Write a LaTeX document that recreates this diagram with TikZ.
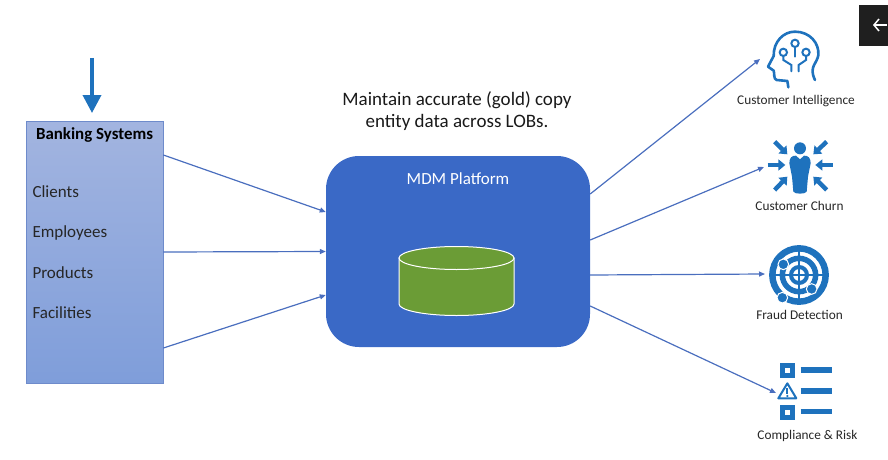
\documentclass[tikz,border=0pt]{standalone}
\usepackage{fontspec}
\setmainfont{Carlito}
\usetikzlibrary{arrows.meta}
\definecolor{iconblue}{HTML}{1E72BD}
\definecolor{linkblue}{HTML}{4A6EBE}
\definecolor{mdmblue}{HTML}{3A69C6}
\definecolor{dbgreen}{HTML}{6B9C36}
\tikzset{
  link/.style={draw=linkblue,line width=1.2pt,-{Triangle[length=6pt,width=5pt]}},
  iconlabel/.style={font=\fontsize{13.3}{15}\selectfont,text=black!85},
  item/.style={anchor=base west,font=\fontsize{17}{19}\selectfont,text=black!85},
  pusharrow/.style={draw=iconblue,line width=4.4pt,-{Triangle[length=7pt,width=11pt]}},
  iconline/.style={draw=iconblue,line width=2.6pt,line cap=round},
  circuit/.style={draw=iconblue,line width=2pt,line cap=round},
  dbshape/.style={draw=white,line width=1pt,fill=dbgreen},
}
\begin{document}
\begin{tikzpicture}[x=1pt,y=-1pt]
  \useasboundingbox (0,0) rectangle (888,460);

  % left box
  \node (banking) at (94.5,252) [draw=linkblue!80,top color=blue!45!black!15!mdmblue!45,bottom color=mdmblue!65,
    minimum width=137pt,minimum height=262pt,inner sep=0pt,line width=0.8pt] {};
  \node (bankingtitle) at (94.5,135.5) {\fontsize{16.9}{19}\selectfont\bfseries Banking Systems};
  \foreach \y/\lbl in {197/Clients,237/Employees,278/Products,318/Facilities}{
    \node (\lbl) at (29,\y) [item] {\lbl};
  }
  \coordinate (feed) at (92,58);
  \coordinate (feedend) at (92,113);
  \draw [draw=iconblue,line width=3.6pt,-{Triangle[length=18pt,width=18pt]}] (feed) -- (feedend);

  % platform
  \node (mdm) at (458,251.5) [fill=mdmblue,rounded corners=33pt,minimum width=264pt,minimum height=191pt,inner sep=0pt] {};
  \node (mdmtitle) at (458,179) [text=white,font=\fontsize{17}{19}\selectfont] {MDM Platform};
  \path [dbshape] (399,258) -- (399,304) arc [start angle=180,end angle=0,x radius=57.5,y radius=11.5] -- (514,258) -- cycle;
  \path [dbshape] (456.5,258) ellipse [x radius=57.5,y radius=11.5];
  \node (goal) at (457,111) [align=center,font=\fontsize{19}{22}\selectfont,text=black!90]
    {Maintain accurate (gold) copy\\entity data across LOBs.};

  % links
  \foreach \a/\b in {97/39.5, 0/0, -96/-43.5}{
    \draw [link] ([yshift=\a]banking.east) -- ([yshift=\b]mdm.west);
  }
  \coordinate (intel) at (760,59);
  \coordinate (churn) at (764,167);
  \coordinate (fraud) at (765,274);
  \coordinate (risk) at (776,393);
  \foreach \a/\t in {57.5/intel, 11.5/churn, -23.5/fraud, -54.5/risk}{
    \draw [link] ([yshift=\a]mdm.east) -- (\t);
  }

  % labels on the right
  \node (intellabel) at (796,101) [iconlabel] {Customer Intelligence};
  \node (churnlabel) at (799.5,205.5) [iconlabel] {Customer Churn};
  \node (fraudlabel) at (799.5,315) [iconlabel] {Fraud Detection};
  \node (risklabel) at (807.5,435.5) [iconlabel] {Compliance \& Risk};

  % head icon
  \begin{scope}[shift={(730,0)},scale=1/3]
    \draw [iconline,line join=round] (175,262) -- (172,243) -- (140,240) .. controls (130,238) and (134,220) .. (131,212)
      -- (114,200) -- (131,168) .. controls (130,125) and (160,95) .. (195,95)
      .. controls (240,95) and (268,130) .. (265,165) .. controls (262,190) and (235,200) .. (255,240);
    \foreach \x/\y in {195/130,160/157,228/157}{
      \draw [circuit] (\x,\y) circle [radius=11];
    }
    \draw [circuit] (195,141) -- (195,170);
    \draw [circuit] (160,168) -- (160,180) -- (184,195) -- (184,214);
    \draw [circuit] (228,168) -- (228,180) -- (206,195) -- (206,214);
  \end{scope}

  % churn icon
  \begin{scope}[shift={(730,0)},scale=1/3]
    \fill [iconblue] (210,445) circle [radius=18];
    \fill [iconblue] (178,490) .. controls (178,472) and (186,467) .. (198,467) -- (210,478) -- (222,467)
      .. controls (234,467) and (242,472) .. (242,490) -- (234,530) -- (230,575) .. controls (227,583) and (193,583) .. (190,575)
      -- (186,530) -- cycle;
    \foreach \x/\y/\u/\v in {134/425/172/463, 290/425/250/463, 113/495/166/495, 308/495/256/495, 134/570/172/530, 290/570/250/530}{
      \draw [pusharrow] (\x,\y) -- (\u,\v);
    }
  \end{scope}

  % radar icon
  \begin{scope}[shift={(730,230)},scale=1/3]
    \draw [draw=iconblue,line width=6.5pt] (207,135) circle [radius=80];
    \draw [draw=iconblue,line width=5.5pt] (207,135) circle [radius=50];
    \draw [draw=iconblue,line width=4pt] (207,135) circle [radius=24];
    \draw [draw=iconblue,line width=2.5pt] (207,48) -- (207,224);
    \draw [draw=iconblue,line width=2.5pt] (118,135) -- (296,135);
    \foreach \x/\y in {160/103,245/177,157/203}{
      \fill [iconblue,draw=white,line width=1pt] (\x,\y) circle [radius=16];
    }
  \end{scope}

  % compliance icon
  \begin{scope}[shift={(730,230)},scale=1/3]
    \foreach \y in {398,525}{
      \fill [iconblue] (150,\y) rectangle (196,\y+45);
      \fill [white] (165,\y+15) rectangle (181,\y+30);
    }
    \foreach \y in {420,483,545}{
      \draw [draw=iconblue,line width=5.5pt] (212,\y) -- (306,\y);
    }
    \draw [draw=iconblue,line width=2pt,line join=round] (172,460) -- (199,505) -- (145,505) -- cycle;
    \draw [draw=iconblue,line width=1.8pt] (172,474) -- (172,491);
    \fill [iconblue] (172,498) circle [radius=3.5];
  \end{scope}

  % back button
  \node (backbox) at (873.5,25.5) [fill=black!88,minimum width=29pt,minimum height=41pt,inner sep=0pt] {};
  \coordinate (backtail) at (887,25);
  \coordinate (backtip) at (873,25);
  \draw [draw=white,line width=1.5pt,-{Straight Barb[length=5pt,width=12pt]}] (backtail) -- (backtip);
\end{tikzpicture}
\end{document}
